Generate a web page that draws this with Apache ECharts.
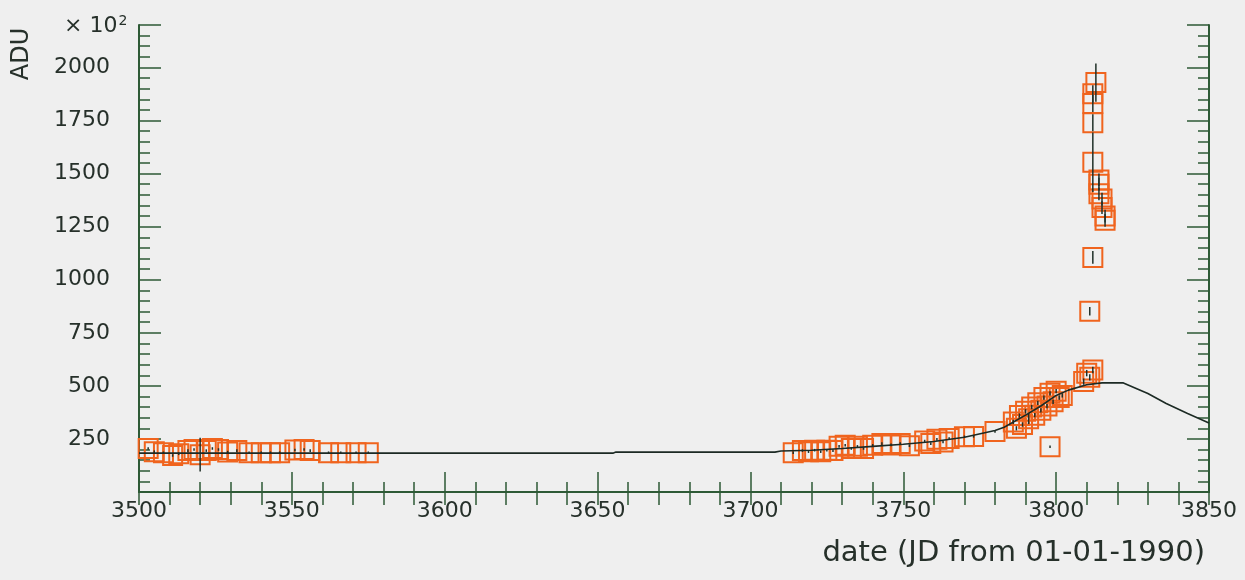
<!DOCTYPE html>
<html>
<head>
<meta charset="utf-8">
<script src="https://cdn.jsdelivr.net/npm/echarts@6/dist/echarts.min.js"></script>
<style>
    html, body {margin: 0; padding: 0; background: #efefef;}
    #lc {width: 1245px; height: 580px;}
</style>
</head>
<body>
<div id="lc"></div>
<script>
// light curve measurements (date, ADU/100, error)
var days = [3503, 3505, 3508, 3511, 3513, 3516, 3518, 3520, 3522, 3524, 3526, 3529, 3532, 3536, 3540, 3543, 3546, 3551, 3554, 3556, 3562, 3566, 3571, 3575,
    3714, 3717, 3719, 3721, 3723, 3725, 3727, 3729, 3731, 3733, 3735, 3737, 3740, 3743, 3746, 3749, 3752, 3757, 3759, 3761, 3763, 3765, 3770, 3773, 3780,
    3786, 3787, 3788, 3789, 3790, 3791, 3792, 3793, 3794, 3795, 3796, 3797, 3798, 3799, 3800, 3801, 3802, 3798,
    3809, 3810, 3811, 3812, 3811, 3812, 3812, 3812, 3812, 3812, 3813, 3814, 3814, 3814, 3815, 3815, 3816, 3816];
var adu = [205, 190, 185, 172, 180, 195, 200, 176, 195, 205, 200, 188, 195, 185, 185, 185, 185, 198, 200, 195, 185, 185, 185, 185,
    185, 195, 190, 197, 190, 197, 195, 215, 220, 205, 215, 205, 220, 228, 222, 228, 218, 240, 228, 248, 236, 252, 260, 262, 285,
    330, 300, 360, 318, 380, 345, 400, 362, 420, 385, 445, 405, 465, 425, 475, 445, 455, 213,
    520, 560, 540, 575, 851, 1105, 1553, 1740, 1830, 1876, 1929, 1470, 1450, 1405, 1380, 1340, 1300, 1280];
var errs = [6, 6, 6, 6, 6, 6, 6, 80, 6, 6, 6, 6, 6, 6, 6, 6, 6, 6, 6, 6, 6, 6, 6, 6,
    6, 6, 6, 6, 6, 6, 6, 6, 6, 6, 6, 6, 6, 6, 6, 6, 6, 6, 6, 6, 6, 6, 6, 6, 6,
    10, 10, 10, 10, 10, 25, 10, 10, 10, 10, 10, 10, 10, 10, 10, 10, 10, 6,
    15, 15, 15, 15, 20, 30, 140, 40, 40, 40, 90, 30, 30, 30, 30, 30, 30, 30];

// fitted curve
var fitDays = [3500, 3655, 3656, 3708, 3710, 3720, 3730, 3740, 3750, 3760, 3770, 3780, 3783, 3790, 3795, 3800, 3804, 3810, 3815, 3822, 3830, 3836, 3843, 3850];
var fitAdu = [183, 183, 188, 188, 193, 197, 205, 215, 225, 238, 258, 290, 305, 362, 405, 455, 480, 505, 514, 514, 464, 417, 370, 325];

var FONT = 'DejaVu Sans';
var AXIS = '#2e5a36';
var INK = '#26302a';

// tiny shallow merge
var $ = {
    extend: function (a, b) {
        var o = {};
        for (var k in a) o[k] = a[k];
        for (var m in b) o[m] = b[m];
        return o;
    }
};

LC = {};

LC.init = function () {
    var lc = echarts.init(document.getElementById('lc'));

    var pts = [], bars = [], fit = [];
    for (var i = 0; i < days.length; i++) {
        pts.push([days[i], adu[i]]);
        bars.push([days[i], adu[i], errs[i]]);
    }
    for (var j = 0; j < fitDays.length; j++) {
        fit.push([fitDays[j], fitAdu[j]]);
    }

    var xBase = {type: 'value', min: 3500, max: 3850, splitLine: {show: false}};
    var yBase = {type: 'value', min: 0, max: 2200, splitLine: {show: false}};
    var line = {show: true, lineStyle: {color: AXIS, width: 2}};

    option = {
        backgroundColor: '#efefef',
        animation: false,
        grid: {left: 139, right: 36, top: 25, bottom: 88, containLabel: false},
        xAxis: [
            $.extend(xBase, {
                position: 'bottom', interval: 10, axisLine: line,
                axisTick: {inside: true, length: 10, lineStyle: {color: AXIS, width: 1.5}},
                axisLabel: {
                    margin: 8, color: INK, fontFamily: FONT, fontSize: 22,
                    formatter: function (v) { return v % 50 === 0 ? String(v) : ''; }
                }
            }),
            $.extend(xBase, {
                position: 'bottom', interval: 50, axisLine: {show: false},
                axisTick: {inside: true, length: 20, lineStyle: {color: AXIS, width: 1.5}},
                axisLabel: {show: false}
            }),
            $.extend(xBase, {
                position: 'top', interval: 10, axisLine: line,
                axisTick: {inside: true, length: 13, lineStyle: {color: AXIS, width: 1.5}},
                axisLabel: {show: false}
            })
        ],
        yAxis: [
            $.extend(yBase, {
                position: 'left', interval: 50, axisLine: line,
                axisTick: {inside: true, length: 11, lineStyle: {color: AXIS, width: 1.5}},
                axisLabel: {
                    margin: 29, color: INK, fontFamily: FONT, fontSize: 22,
                    formatter: function (v) { return (v % 250 === 0 && v > 0 && v <= 2000) ? String(v) : ''; }
                }
            }),
            $.extend(yBase, {
                position: 'left', interval: 250, axisLine: {show: false},
                axisTick: {inside: true, length: 22, lineStyle: {color: AXIS, width: 1.5}},
                axisLabel: {show: false}
            }),
            $.extend(yBase, {
                position: 'right', interval: 50, axisLine: line,
                axisTick: {inside: true, length: 11, lineStyle: {color: AXIS, width: 1.5}},
                axisLabel: {show: false}
            }),
            $.extend(yBase, {
                position: 'right', interval: 250, axisLine: {show: false},
                axisTick: {inside: true, length: 22, lineStyle: {color: AXIS, width: 1.5}},
                axisLabel: {show: false}
            })
        ],
        graphic: [
            {
                type: 'text', x: 22, y: 54, rotation: Math.PI / 2,
                style: {text: 'ADU', fill: INK, font: '24px "DejaVu Sans"', textAlign: 'center', textVerticalAlign: 'middle'}
            },
            {
                type: 'text', x: 64, y: 26,
                style: {
                    text: '× 10{s|2}', fill: INK, font: '22px "DejaVu Sans"', textVerticalAlign: 'middle',
                    rich: {s: {fontSize: 14, fontFamily: FONT, verticalAlign: 'top', padding: [0, 0, 10, 1]}}
                }
            },
            {
                type: 'text', x: 1205, y: 553,
                style: {text: 'date (JD from 01-01-1990)', fill: INK, font: '29px "DejaVu Sans"', textAlign: 'right', textVerticalAlign: 'middle'}
            }
        ],
        series: [
            {
                type: 'scatter',
                data: pts,
                symbol: 'rect',
                symbolSize: 19,
                itemStyle: {color: 'rgba(0,0,0,0)', borderColor: '#f0641e', borderWidth: 2, opacity: 1},
                z: 2
            },
            {
                type: 'custom',
                data: bars,
                renderItem: function (params, api) {
                    var x = api.value(0), y = api.value(1), e = api.value(2);
                    var lo = api.coord([x, y - e]);
                    var hi = api.coord([x, y + e]);
                    return {
                        type: 'line',
                        shape: {x1: lo[0], y1: lo[1], x2: hi[0], y2: hi[1]},
                        style: {stroke: '#203028', lineWidth: 1.5}
                    };
                },
                z: 3
            },
            {
                type: 'line',
                data: fit,
                showSymbol: false,
                lineStyle: {color: '#1c2a24', width: 1.6},
                z: 4
            }
        ]
    };
    lc.setOption(option);
};

LC.init();
</script>
</body>
</html>
